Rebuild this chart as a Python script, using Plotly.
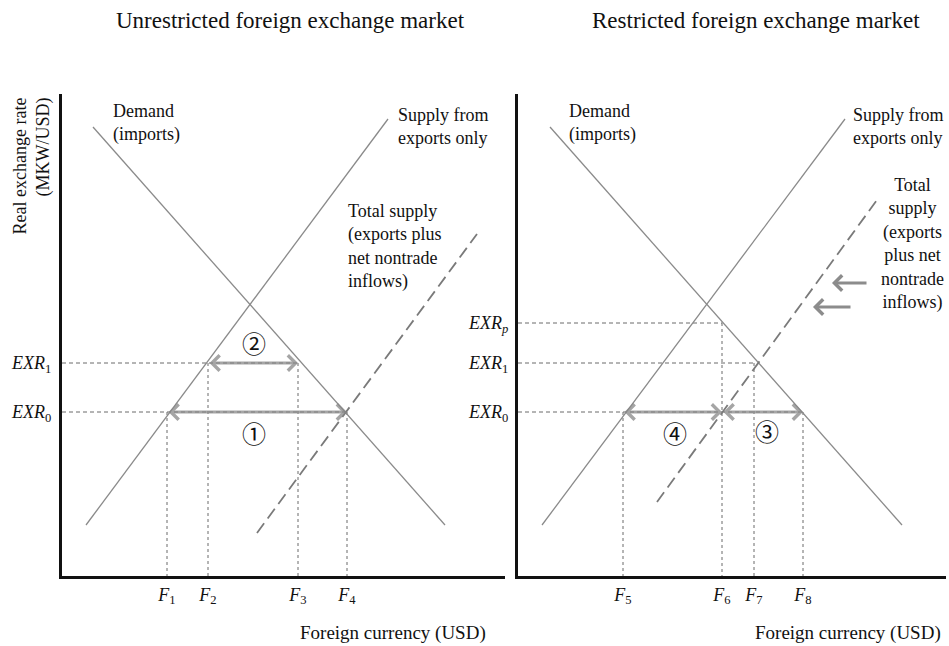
import plotly.graph_objects as go

W, H = 949, 646
SERIF = "Liberation Serif, Times New Roman, serif"
CIRC = "Noto Sans CJK JP, DejaVu Sans, sans-serif"

# ---------------- data (abstract units: foreign currency, exchange rate) ----------------
# Left panel: unrestricted market
L_demand_x = [31, 383]
L_demand_y = [449, 51]
L_supply_x = [24, 326]
L_supply_y = [51, 457]
L_total_x = [195, 415]
L_total_y = [43, 342]
L_F = [105, 146, 236, 285]                 # F1..F4
L_F_text = ["<i>F</i><sub>1</sub>", "<i>F</i><sub>2</sub>", "<i>F</i><sub>3</sub>", "<i>F</i><sub>4</sub>"]
L_EXR = [164, 213]                         # EXR0, EXR1
L_EXR_text = ["<i>EXR</i><sub>0</sub>", "<i>EXR</i><sub>1</sub>"]

# Right panel: restricted market
R_demand_x = [32, 384]
R_demand_y = [449, 51]
R_supply_x = [24, 327]
R_supply_y = [51, 457]
R_total_x = [139, 359]
R_total_y = [74, 376]
R_F = [105, 204, 236, 285]                 # F5..F8
R_F_text = ["<i>F</i><sub>5</sub>", "<i>F</i><sub>6</sub>", "<i>F</i><sub>7</sub>", "<i>F</i><sub>8</sub>"]
R_EXR = [164, 213, 253]                    # EXR0, EXR1, EXRp
R_EXR_text = ["<i>EXR</i><sub>0</sub>", "<i>EXR</i><sub>1</sub>", "<i>EXR</i><sub><i>p</i></sub>"]
R_shift_y = [293, 269]
R_shift_from = [350, 334]
R_shift_to = [314, 295]

LINE_GRAY = "#8a8a8a"
GUIDE = "#6a6a6a"
ARROW = "rgba(135,135,135,0.75)"

fig = go.Figure()

def add_line(x, y, xa, ya, color=LINE_GRAY, width=1.3, dash=None):
    fig.add_trace(go.Scatter(x=x, y=y, mode="lines", xaxis=xa, yaxis=ya,
                             line=dict(color=color, width=width, dash=dash),
                             hoverinfo="skip", showlegend=False))

# guides left: (F, level)
L_guides = [(L_F[0], L_EXR[0]), (L_F[1], L_EXR[1]), (L_F[2], L_EXR[1]), (L_F[3], L_EXR[0])]
for f, lv in L_guides:
    add_line([f, f], [lv, 0], "x", "y", GUIDE, 1, "3px,3px")
add_line([0, L_F[3]], [L_EXR[0]] * 2, "x", "y", GUIDE, 1, "4px,3px")
add_line([0, L_F[2]], [L_EXR[1]] * 2, "x", "y", GUIDE, 1, "4px,3px")

R_guides = [(R_F[0], R_EXR[0]), (R_F[1], R_EXR[2]), (R_F[2], R_EXR[1]), (R_F[3], R_EXR[0])]
for f, lv in R_guides:
    add_line([f, f], [lv, 0], "x2", "y2", GUIDE, 1, "3px,3px")
add_line([0, R_F[3]], [R_EXR[0]] * 2, "x2", "y2", GUIDE, 1, "4px,3px")
add_line([0, R_F[2]], [R_EXR[1]] * 2, "x2", "y2", GUIDE, 1, "4px,3px")
add_line([0, R_F[1]], [R_EXR[2]] * 2, "x2", "y2", GUIDE, 1, "4px,3px")

# demand / supply curves
add_line(L_demand_x, L_demand_y, "x", "y")
add_line(L_supply_x, L_supply_y, "x", "y")
add_line(L_total_x, L_total_y, "x", "y", "#7a7a7a", 1.8, "12px,6px")
add_line(R_demand_x, R_demand_y, "x2", "y2")
add_line(R_supply_x, R_supply_y, "x2", "y2")
add_line(R_total_x, R_total_y, "x2", "y2", "#7a7a7a", 1.8, "12px,6px")

ann = []

def dbl_arrow(x0, x1, y, xr, yr):
    ann.append(dict(x=x1, y=y, ax=x0, ay=y, xref=xr, yref=yr, axref=xr, ayref=yr,
                    text="", showarrow=True, arrowhead=4, startarrowhead=4,
                    arrowside="end+start", arrowsize=1.0, startarrowsize=1.0,
                    arrowwidth=3, arrowcolor=ARROW, standoff=0, startstandoff=0))

def sgl_arrow(x0, x1, y, xr, yr):
    ann.append(dict(x=x1, y=y, ax=x0, ay=y, xref=xr, yref=yr, axref=xr, ayref=yr,
                    text="", showarrow=True, arrowhead=4, arrowsize=1.0,
                    arrowwidth=3, arrowcolor="rgba(120,120,120,0.85)", standoff=0))

dbl_arrow(L_F[0], L_F[3], L_EXR[0], "x", "y")
dbl_arrow(L_F[1], L_F[2], L_EXR[1], "x", "y")
dbl_arrow(R_F[0], R_F[1], R_EXR[0], "x2", "y2")
dbl_arrow(R_F[1], R_F[3], R_EXR[0], "x2", "y2")
for yv, a, b in zip(R_shift_y, R_shift_from, R_shift_to):
    sgl_arrow(a, b, yv, "x2", "y2")

def circ(t, x, y, xr, yr):
    ann.append(dict(text=t, x=x, y=y, xref=xr, yref=yr, showarrow=False,
                    font=dict(family=CIRC, size=24, color="#111")))

circ("②", 192, 234, "x", "y")
circ("①", 192, 144, "x", "y")
circ("④", 157, 144, "x2", "y2")
circ("③", 249, 146, "x2", "y2")

def label(t, x, y, xr, yr, align="left", xanchor="left"):
    ann.append(dict(text=t, x=x, y=y, xref=xr, yref=yr, showarrow=False, align=align,
                    xanchor=xanchor, yanchor="middle",
                    font=dict(family=SERIF, size=18, color="#111")))

label("Demand<br>(imports)", 49, 453, "x", "y")
label("Supply from<br>exports only", 334, 450, "x", "y")
label("Total supply<br>(exports plus<br>net nontrade<br>inflows)", 284, 330, "x", "y")
label("Demand<br>(imports)", 49, 453, "x2", "y2")
label("Supply from<br>exports only", 333, 450, "x2", "y2")
label("Total<br>supply<br>(exports<br>plus net<br>nontrade<br>inflows)", 394, 332, "x2", "y2",
      align="center", xanchor="center")

# titles and axis titles
ann.append(dict(text="Unrestricted foreign exchange market", x=290 / W, y=1 - 20 / H,
                xref="paper", yref="paper", showarrow=False, xanchor="center", yanchor="middle",
                font=dict(family=SERIF, size=23, color="#111")))
ann.append(dict(text="Restricted foreign exchange market", x=756 / W, y=1 - 20 / H,
                xref="paper", yref="paper", showarrow=False, xanchor="center", yanchor="middle",
                font=dict(family=SERIF, size=23, color="#111")))
ann.append(dict(text="Foreign currency (USD)", x=393 / W, y=1 - 633 / H,
                xref="paper", yref="paper", showarrow=False, xanchor="center", yanchor="middle",
                font=dict(family=SERIF, size=19, color="#111")))
ann.append(dict(text="Foreign currency (USD)", x=848 / W, y=1 - 633 / H,
                xref="paper", yref="paper", showarrow=False, xanchor="center", yanchor="middle",
                font=dict(family=SERIF, size=19, color="#111")))
ann.append(dict(text="Real exchange rate<br>(MKW/USD)", x=32 / W, y=1 - 96 / H,
                xref="paper", yref="paper", showarrow=False, xanchor="center", yanchor="top",
                textangle=-90, align="right",
                font=dict(family=SERIF, size=18, color="#111")))

Y_DOM = [(H - 576) / H, (H - 94) / H]
axis_common = dict(showgrid=False, zeroline=False, showline=True, linecolor="#111",
                   linewidth=3, ticks="", fixedrange=True,
                   tickfont=dict(family=SERIF, size=18, color="#111"))

fig.update_layout(
    width=W, height=H, margin=dict(l=0, r=0, t=0, b=0),
    paper_bgcolor="white", plot_bgcolor="white", showlegend=False,
    xaxis=dict(domain=[62 / W, 505 / W], range=[0, 443], tickvals=L_F, ticktext=L_F_text,
               anchor="y", **axis_common),
    yaxis=dict(domain=Y_DOM, range=[0, 482], tickvals=L_EXR, ticktext=L_EXR_text,
               anchor="x", ticklabelstandoff=4, **axis_common),
    xaxis2=dict(domain=[518 / W, 946 / W], range=[0, 428], tickvals=R_F, ticktext=R_F_text,
                anchor="y2", **axis_common),
    yaxis2=dict(domain=Y_DOM, range=[0, 482], tickvals=R_EXR, ticktext=R_EXR_text,
                anchor="x2", ticklabelstandoff=3, **axis_common),
    annotations=ann,
)

fig.write_html("out.html", config={"displayModeBar": False},
               post_script="document.body.style.margin='0';document.body.style.padding='0';"
                           "document.documentElement.style.overflow='hidden';")
